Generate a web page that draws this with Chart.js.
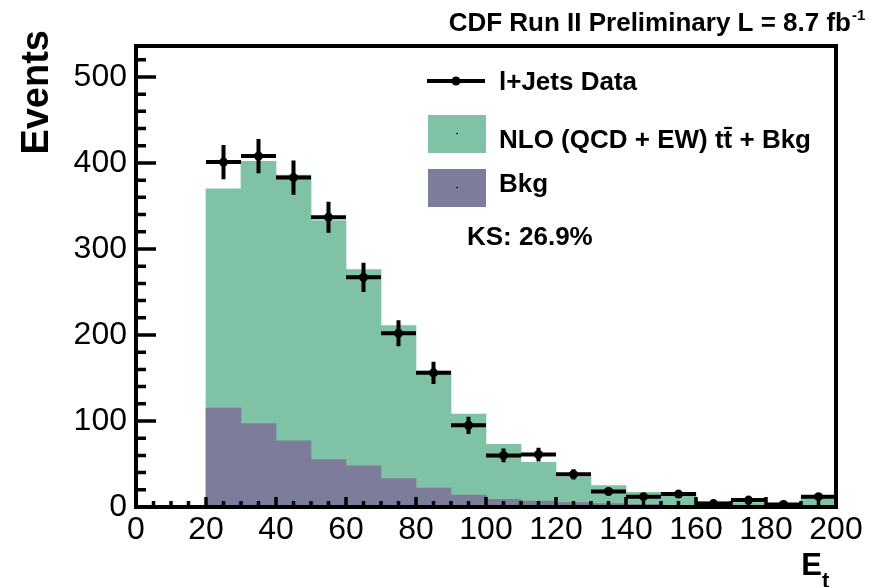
<!DOCTYPE html>
<html>
<head>
<meta charset="utf-8">
<script src="https://cdn.jsdelivr.net/npm/chart.js@4.4.1/dist/chart.umd.min.js"></script>
<style>
    html, body { margin: 0; padding: 0; background: #fff; }
    #wrap { width: 882px; height: 587px; position: relative; }
</style>
</head>
<body>
<div id="wrap"><canvas id="et-chart"></canvas></div>
<script>
// bin edges of the E_t histogram (20..200 in steps of 10)
const binEdges = [20, 30, 40, 50, 60, 70, 80, 90, 100, 110, 120, 130, 140, 150, 160, 170, 180, 190, 200];

// NLO (QCD + EW) ttbar + Bkg, stacked total
const totalCounts = [370, 402, 386, 333, 276, 211, 158, 108, 73, 52, 35, 25, 17, 17, 6, 5, 3, 12];
// background only
const bkgCounts = [115, 97, 77, 55, 48, 33, 22, 14, 9, 7, 5, 4, 3, 2, 2, 1, 1, 1];
// l+Jets data and its errors
const dataCounts = [401, 408, 383, 337, 267, 202, 156, 95, 60, 61, 38, 18, 12, 15, 4, 8, 3, 12];
const dataErrors = [20, 20, 20, 18, 17, 15, 13, 10, 8, 8, 6, 4, 4, 4, 2, 3, 2, 3];

const xTicks = [0, 20, 40, 60, 80, 100, 120, 140, 160, 180, 200];
const yTicks = [0, 100, 200, 300, 400, 500];

const GREEN = '#80c2a5';
const PURPLE = '#7d7d9b';
const FONT = "'Liberation Sans', Arial, Helvetica, sans-serif";

const $ = id => document.getElementById(id);

const centers = binEdges.slice(0, -1).map((lo, i) => (lo + binEdges[i + 1]) / 2);
const toBars = arr => arr.map((v, i) => ({ x: centers[i], y: v }));

// error bars: horizontal bin width + vertical stat error, broken by nulls
const errorSegments = [];
dataCounts.forEach((v, i) => {
    const lo = binEdges[i], hi = binEdges[i + 1], c = centers[i], e = dataErrors[i];
    errorSegments.push({ x: lo, y: v }, { x: hi, y: v }, { x: c, y: null });
    errorSegments.push({ x: c, y: v - e }, { x: c, y: v + e }, { x: c, y: null });
});

// ROOT-like frame, inner ticks, legend and titles
const rootStyle = {
    id: 'rootStyle',
    afterDatasetsDraw(chart) {
        const { ctx, chartArea: a, scales: { x, y } } = chart;
        ctx.save();
        ctx.strokeStyle = '#000';
        ctx.lineWidth = 3.5;
        ctx.beginPath();
        for (let v = 0; v <= 520; v += 20) {
            const py = y.getPixelForValue(v);
            const len = v % 100 === 0 ? 20 : 10;
            ctx.moveTo(a.left, py);
            ctx.lineTo(a.left + len, py);
        }
        for (let v = 0; v <= 200; v += 5) {
            const px = x.getPixelForValue(v);
            const len = v % 20 === 0 ? 10 : 6;
            ctx.moveTo(px, a.bottom);
            ctx.lineTo(px, a.bottom - len);
        }
        ctx.stroke();
        ctx.lineWidth = 4;
        ctx.strokeRect(a.left, a.top, a.right - a.left, a.bottom - a.top);
        ctx.restore();
    },
    afterDraw(chart) {
        const { ctx } = chart;
        const ds = chart.data.datasets;
        ctx.save();
        ctx.fillStyle = '#000';
        ctx.textBaseline = 'alphabetic';

        // top title
        ctx.font = 'bold 26px ' + FONT;
        ctx.textAlign = 'right';
        ctx.fillText('CDF Run II Preliminary L = 8.7 fb', 851, 31);
        ctx.font = 'bold 15px ' + FONT;
        ctx.textAlign = 'left';
        ctx.fillText('-1', 852, 20);

        // y title
        ctx.save();
        ctx.translate(48, 30);
        ctx.rotate(-Math.PI / 2);
        ctx.font = 'bold 38px ' + FONT;
        ctx.textAlign = 'right';
        ctx.fillText('Events', 0, 0);
        ctx.restore();

        // x title
        ctx.font = 'bold 31px ' + FONT;
        ctx.textAlign = 'right';
        ctx.fillText('E', 822, 575);
        ctx.font = 'bold 22px ' + FONT;
        ctx.textAlign = 'left';
        ctx.fillText('t', 822, 588);

        // legend
        ctx.strokeStyle = '#000';
        ctx.lineWidth = 4;
        ctx.beginPath();
        ctx.moveTo(427, 81);
        ctx.lineTo(485, 81);
        ctx.stroke();
        ctx.beginPath();
        ctx.arc(456, 81, 4.5, 0, Math.PI * 2);
        ctx.fill();

        ctx.fillStyle = ds[3].backgroundColor;
        ctx.fillRect(428, 115, 58, 38);
        ctx.fillStyle = ds[2].backgroundColor;
        ctx.fillRect(428, 169, 58, 38);
        ctx.fillStyle = '#000';
        ctx.fillRect(456, 133, 2, 1);
        ctx.fillRect(456, 187, 2, 1);

        ctx.font = 'bold 26px ' + FONT;
        ctx.textAlign = 'left';
        ctx.fillText(ds[1].label, 499, 90);
        ctx.fillText(ds[3].label, 499, 148);
        ctx.fillText(ds[2].label, 499, 192);
        ctx.fillText('KS: 26.9%', 467, 245);
        ctx.restore();
    }
};

const config = {
    type: 'bar',
    data: {
        datasets: [
            {
                type: 'line',
                label: 'errors',
                data: errorSegments,
                borderColor: '#000',
                borderWidth: 4,
                borderCapStyle: 'butt',
                pointRadius: 0,
                spanGaps: false,
                order: 1,
            },
            {
                type: 'scatter',
                label: 'l+Jets Data',
                data: toBars(dataCounts),
                backgroundColor: '#000',
                borderWidth: 0,
                pointRadius: 4.5,
                order: 0,
            },
            {
                label: 'Bkg',
                data: toBars(bkgCounts),
                backgroundColor: PURPLE,
                borderWidth: 0,
                barPercentage: 1,
                categoryPercentage: 1,
                grouped: false,
                order: 2,
            },
            {
                label: 'NLO (QCD + EW) tt\u0304 + Bkg',
                data: toBars(totalCounts),
                backgroundColor: GREEN,
                borderWidth: 0,
                barPercentage: 1,
                categoryPercentage: 1,
                grouped: false,
                order: 3,
            },
        ]
    },
    options: {
        responsive: true,
        maintainAspectRatio: false,
        animation: false,
        layout: { padding: { left: 0, top: 46, right: 46, bottom: 0 } },
        plugins: {
            legend: { display: false },
            tooltip: { enabled: false },
        },
        scales: {
            x: {
                type: 'linear',
                min: 0,
                max: 200,
                offset: false,
                grid: { display: false, drawTicks: false },
                border: { display: false },
                afterFit: s => { s.height = 80; },
                afterBuildTicks: s => { s.ticks = xTicks.map(v => ({ value: v })); },
                ticks: {
                    padding: 4,
                    color: '#000',
                    maxRotation: 0,
                    font: { size: 32, family: FONT },
                },
            },
            y: {
                min: 0,
                max: 536,
                grid: { display: false, drawTicks: false },
                border: { display: false },
                afterFit: s => { s.width = 136; },
                afterBuildTicks: s => { s.ticks = yTicks.map(v => ({ value: v })); },
                ticks: {
                    padding: 9,
                    color: '#000',
                    font: { size: 32, family: FONT },
                },
            },
        },
    },
    plugins: [rootStyle],
};

new Chart($('et-chart'), config);
</script>
</body>
</html>
